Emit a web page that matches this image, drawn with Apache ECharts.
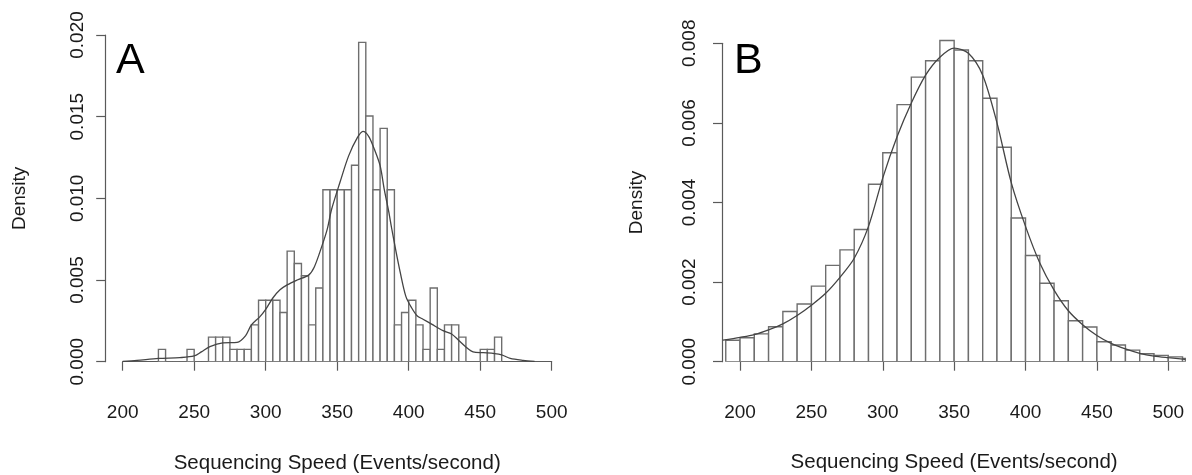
<!DOCTYPE html>
<html>
<head>
<meta charset="utf-8">
<script src="https://cdn.jsdelivr.net/npm/echarts@6/dist/echarts.min.js"></script>
<style>
  html, body { margin: 0; padding: 0; background: #ffffff; }
  #chart { width: 1192px; height: 475px; }
</style>
</head>
<body>
<div id="chart"></div>
<script>
// ---------- Panel A: per-run sequencing speed (bins of 5 events/s) ----------
const binStartA = [225,230,235,240,245,250,255,260,265,270,275,280,285,290,295,300,
                   305,310,315,320,325,330,335,340,345,350,355,360,365,370,375,380,
                   385,390,395,400,405,410,415,420,425,430,435,440,445,450,455,460];
const binWidthA = 5;
const countsA   = [1,0,0,0,1,0,0,2,2,2,1,1,1,3,5,5,
                   5,4,9,8,7,3,6,14,14,14,14,16,26,20,14,19,
                   14,3,4,5,3,1,6,1,3,3,2,0,0,1,1,2];
// kernel density estimate drawn over panel A
const kdeSpeedA   = [200,210,225,240,250,255,261,270,280,286,290,296,300,305,310,315,
                     322,330,334,339,343,346,352,358,364,368,372,376,380,383,386,388,
                     391,394,398,402,406,410,416,424,430,435,440,445,452,460,465,471,
                     480,488];
const kdeDensityA = [0.00002,0.00008,0.0002,0.00025,0.00035,0.0006,0.00092,0.00115,0.00118,0.0016,
                     0.00225,0.00276,0.0032,0.0039,0.0044,0.0047,0.0050,0.0053,0.0058,0.0070,
                     0.0081,0.0093,0.0110,0.0126,0.0137,0.0141,0.0138,0.0130,0.0120,0.0105,
                     0.0092,0.0082,0.0068,0.0055,0.0040,0.0033,0.0028,0.0026,0.0023,0.0019,
                     0.0017,0.0013,0.0009,0.0006,0.00055,0.0005,0.00042,0.0002,0.00008,0.00002];

// ---------- Panel B: per-read sequencing speed (bins of 10 events/s) ----------
const binStartB = [190,200,210,220,230,240,250,260,270,280,290,300,310,320,330,340,
                   350,360,370,380,390,400,410,420,430,440,450,460,470,480,490,500,510];
const binWidthB = 10;
const densityB  = [0.00054,0.00060,0.00070,0.00088,0.00126,0.00145,0.00190,0.00242,
                   0.00281,0.00332,0.00446,0.00525,0.00646,0.00715,0.00756,0.00807,
                   0.00783,0.00756,0.00662,0.00539,0.00361,0.00267,0.00197,0.00153,
                   0.00103,0.00087,0.00050,0.00042,0.00029,0.00020,0.00016,0.00012,0.00008];
const kdeSpeedB   = [188,200,210,220,230,240,250,260,270,280,290,300,310,320,330,340,
                     350,360,370,380,390,400,410,420,430,440,450,460,470,480,490,500,512];
const kdeDensityB = [0.00054,0.00061,0.00068,0.00080,0.00095,0.00116,0.00142,0.00172,
                     0.00212,0.00260,0.00340,0.00462,0.00565,0.00650,0.00720,0.00765,
                     0.00788,0.00775,0.00720,0.00600,0.00450,0.00340,0.00248,0.00180,
                     0.00128,0.00093,0.00066,0.00046,0.00032,0.00021,0.00014,0.00010,0.00006];

// shared axis ticks
const speedTicks = [200, 250, 300, 350, 400, 450, 500];
const densityTicksA = [0, 0.005, 0.010, 0.015, 0.020];
const densityTicksB = [0, 0.002, 0.004, 0.006, 0.008];

const xTitle = 'Sequencing Speed (Events/second)';
const yTitle = 'Density';
const FONT = '"Liberation Sans", Arial, Helvetica, sans-serif';
const INK = '#1a1a1a';
const AXIS_GRAY = '#5a5a5a';

// histogram rows: [left edge, right edge, density]
const totalA = countsA.reduce((s, c) => s + c, 0);
const histA = binStartA.map((x, i) => [x, x + binWidthA, countsA[i] / (totalA * binWidthA)]);
const histB = binStartB.map((x, i) => [x, x + binWidthB, densityB[i]]);
const curveA = kdeSpeedA.map((x, i) => [x, kdeDensityA[i]]);
const curveB = kdeSpeedB.map((x, i) => [x, kdeDensityB[i]]);

// R-style open rectangles, clipped to the plotting region
function histItem(params, api) {
  const top = api.coord([api.value(0), api.value(2)]);
  const bot = api.coord([api.value(1), 0]);
  const cs = params.coordSys;
  const rect = echarts.graphic.clipRectByRect(
    { x: top[0], y: top[1], width: bot[0] - top[0], height: bot[1] - top[1] },
    { x: cs.x, y: cs.y, width: cs.width, height: cs.height }
  );
  if (!rect) return null;
  return {
    type: 'rect',
    shape: rect,
    style: { fill: '#ffffff', stroke: '#6e6e6e', lineWidth: 1.4 }
  };
}

// plotting regions (data) and axis frames (tick range only, axes pushed outward)
const layout = {
  A: { data: { left: 105.5, top: 35, width: 463.4, height: 326.7 },
       axes: { left: 122.7, top: 35, width: 429.0, height: 326.7 },
       xOffset: 15, yOffset: 17.5, yLabelMargin: 18 },
  B: { data: { left: 722.9, top: 3.5, width: 462.5, height: 358.2 },
       axes: { left: 740.0, top: 43.3, width: 428.3, height: 318.4 },
       xOffset: 14.5, yOffset: 18, yLabelMargin: 23 }
};

function hiddenAxis(extra) {
  return Object.assign({
    type: 'value', show: false, splitLine: { show: false }
  }, extra);
}

function xFrame(gridIndex, offset) {
  return {
    type: 'value', gridIndex, min: speedTicks[0], max: speedTicks[speedTicks.length - 1],
    interval: speedTicks[1] - speedTicks[0], offset,
    axisLine: { show: true, lineStyle: { color: AXIS_GRAY, width: 1.2 } },
    axisTick: { show: true, inside: false, length: 9, lineStyle: { color: AXIS_GRAY, width: 1.2 } },
    axisLabel: { show: true, margin: 27, color: INK, fontSize: 19, fontFamily: FONT },
    splitLine: { show: false },
    name: xTitle, nameLocation: 'middle', nameGap: 76,
    nameTextStyle: { color: INK, fontSize: 20.5, fontFamily: FONT }
  };
}

function yFrame(gridIndex, ticks, offset, labelMargin) {
  return {
    type: 'value', gridIndex, min: ticks[0], max: ticks[ticks.length - 1],
    interval: ticks[1] - ticks[0], offset,
    axisLine: { show: true, lineStyle: { color: AXIS_GRAY, width: 1.2 } },
    axisTick: { show: true, inside: false, length: 9, lineStyle: { color: AXIS_GRAY, width: 1.2 } },
    axisLabel: { show: true, rotate: 90, margin: labelMargin, color: INK, fontSize: 19, fontFamily: FONT,
                 formatter: v => v.toFixed(3) },
    splitLine: { show: false },
    name: yTitle, nameLocation: 'middle', nameGap: 76, nameRotate: 90,
    nameTextStyle: { color: INK, fontSize: 19, fontFamily: FONT }
  };
}

const gridBase = { containLabel: false, outerBoundsMode: 'none', show: false };

const option = {
  animation: false,
  backgroundColor: '#ffffff',
  grid: [
    Object.assign({}, gridBase, layout.A.data),
    Object.assign({}, gridBase, layout.A.axes),
    Object.assign({}, gridBase, layout.B.data),
    Object.assign({}, gridBase, layout.B.axes)
  ],
  xAxis: [
    hiddenAxis({ gridIndex: 0, min: 188, max: 512 }),
    xFrame(1, layout.A.xOffset),
    hiddenAxis({ gridIndex: 2, min: 188, max: 512 }),
    xFrame(3, layout.B.xOffset)
  ],
  yAxis: [
    hiddenAxis({ gridIndex: 0, min: 0, max: 0.020 }),
    yFrame(1, densityTicksA, layout.A.yOffset, layout.A.yLabelMargin),
    hiddenAxis({ gridIndex: 2, min: 0, max: 0.009 }),
    yFrame(3, densityTicksB, layout.B.yOffset, layout.B.yLabelMargin)
  ],
  graphic: [
    { type: 'text', left: 116, top: 40,
      style: { text: 'A', fontSize: 43, fontFamily: FONT, fill: '#000000' } },
    { type: 'text', left: 734, top: 40,
      style: { text: 'B', fontSize: 43, fontFamily: FONT, fill: '#000000' } }
  ],
  series: [
    { type: 'custom', name: 'histA', xAxisIndex: 0, yAxisIndex: 0,
      renderItem: histItem, encode: { x: [0, 1], y: 2 }, data: histA, clip: true },
    { type: 'line', name: 'kdeA', xAxisIndex: 0, yAxisIndex: 0, data: curveA,
      smooth: 0.3, showSymbol: false, symbol: 'none', clip: true,
      lineStyle: { color: '#444444', width: 1.3 } },
    { type: 'custom', name: 'histB', xAxisIndex: 2, yAxisIndex: 2,
      renderItem: histItem, encode: { x: [0, 1], y: 2 }, data: histB, clip: true },
    { type: 'line', name: 'kdeB', xAxisIndex: 2, yAxisIndex: 2, data: curveB,
      smooth: 0.3, showSymbol: false, symbol: 'none', clip: true,
      lineStyle: { color: '#444444', width: 1.3 } }
  ]
};

const chart = echarts.init(document.getElementById('chart'), null, { renderer: 'canvas' });
chart.setOption(option);
</script>
</body>
</html>
